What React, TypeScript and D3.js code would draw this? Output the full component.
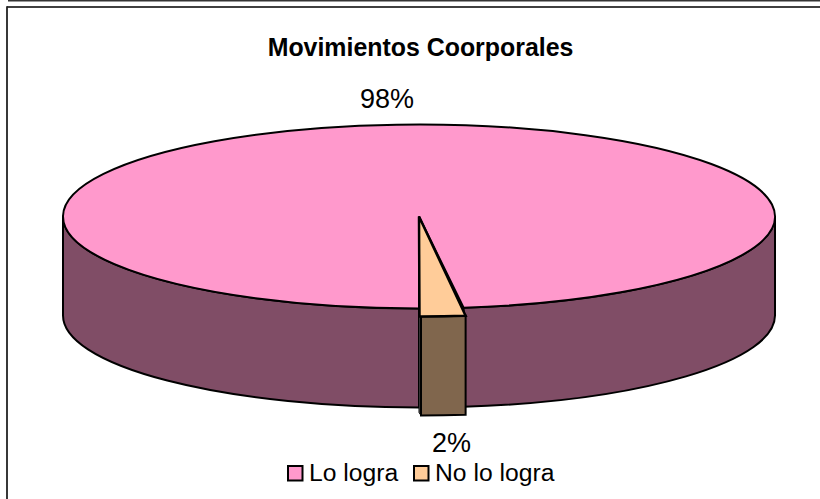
import React from "react";
import * as d3 from "d3";

const categories = ["Lo logra", "No lo logra"];
const values = [98, 2];
const labels = ["98%", "2%"];
const topColors = ["#FF99CC", "#FFCC99"];
const sideColors = ["#804D66", "#80664D"];

const W = 820, H = 499;
const cx = 419, cy = 216.5, rx = 356, ry = 92, depth = 99;

const arcs = d3.pie<number>().sort(null)(values);
const xScale = d3.scaleLinear().domain([-1, 1]).range([cx - rx, cx + rx]);
const yScale = d3.scaleLinear().domain([-1, 1]).range([cy - ry, cy + ry]);

// angle measured clockwise from the south end of the ellipse, on screen
const pt = (a: number, dx = 0, dy = 0): [number, number] => [
  xScale(Math.sin(a)) + dx,
  yScale(Math.cos(a)) + dy,
];

const bigEnd = -(arcs[0].endAngle - arcs[0].startAngle);
const smallEnd = arcs[1].endAngle - arcs[1].startAngle;

export default function App() {
  const bStart = pt(0);
  const bEnd = pt(bigEnd);
  const west = pt(-Math.PI / 2);
  const east = pt(Math.PI / 2);
  const arc = `A${rx},${ry} 0`;

  const top = `M${cx},${cy}L${bStart}${arc} 1 1 ${bEnd}Z`;
  const sideW = `M${west}L${west[0]},${west[1] + depth}${arc} 0 0 ${bStart[0]},${bStart[1] + depth}L${bStart}${arc} 0 1 ${west}Z`;
  const sideE = `M${east}L${east[0]},${east[1] + depth}${arc} 0 1 ${bEnd[0]},${bEnd[1] + depth}L${bEnd}${arc} 0 0 ${east}Z`;

  const ex = 2, ey = 8;
  const s0 = pt(0, ex, ey);
  const s1 = pt(smallEnd, ex, ey);
  const sTop = `M${cx},${cy}L${s0[0] - 1.5},${s0[1]}L${s0}${arc} 0 0 ${s1}Z`;
  const sFront = `M${s0}L${s0[0]},${s0[1] + depth}${arc} 0 0 ${s1[0]},${s1[1] + depth}L${s1}${arc} 0 1 ${s0}Z`;
  const sInner = `M${s0[0] - 2},${s0[1]}L${s0[0] - 2},${s0[1] + depth - 3}L${s0[0]},${s0[1] + depth}L${s0}Z`;

  const font = "Liberation Sans, Arial, sans-serif";
  return (
    <svg width={W} height={H} style={{ position: "absolute", left: 0, top: 0, background: "#fff" }} fontFamily={font}>
      <rect x={8} y={0} width={W - 8} height={1.5} fill="#333" />
      <line x1={7} y1={7} x2={W} y2={7} stroke="#000" strokeWidth={1.5} />
      <line x1={7} y1={6.3} x2={7} y2={H} stroke="#222" strokeWidth={1.8} />

      <text x={420.5} y={55.5} textAnchor="middle" fontSize={24.9} fontWeight="bold">Movimientos Coorporales</text>

      <path d={sideW} fill={sideColors[0]} stroke="#000" strokeWidth={2} />
      <path d={sideE} fill={sideColors[0]} stroke="#000" strokeWidth={2} />
      <path d={top} fill={topColors[0]} stroke="#000" strokeWidth={2} />
      <path d={sInner} fill="#666" stroke="#000" strokeWidth={1} />
      <path d={sFront} fill={sideColors[1]} stroke="#000" strokeWidth={2} />
      <path d={sTop} fill={topColors[1]} stroke="#000" strokeWidth={2.5} />

      <text x={387} y={108} textAnchor="middle" fontSize={27}>{labels[0]}</text>
      <text x={451.5} y={452} textAnchor="middle" fontSize={27}>{labels[1]}</text>

      <g fontSize={24.7}>
        <rect x={288} y={466} width={14.5} height={14.5} fill={topColors[0]} stroke="#000" strokeWidth={2} />
        <text x={309} y={481}>{categories[0]}</text>
        <rect x={414} y={466} width={14.5} height={14.5} fill={topColors[1]} stroke="#000" strokeWidth={2} />
        <text x={435} y={481}>{categories[1]}</text>
      </g>
    </svg>
  );
}
